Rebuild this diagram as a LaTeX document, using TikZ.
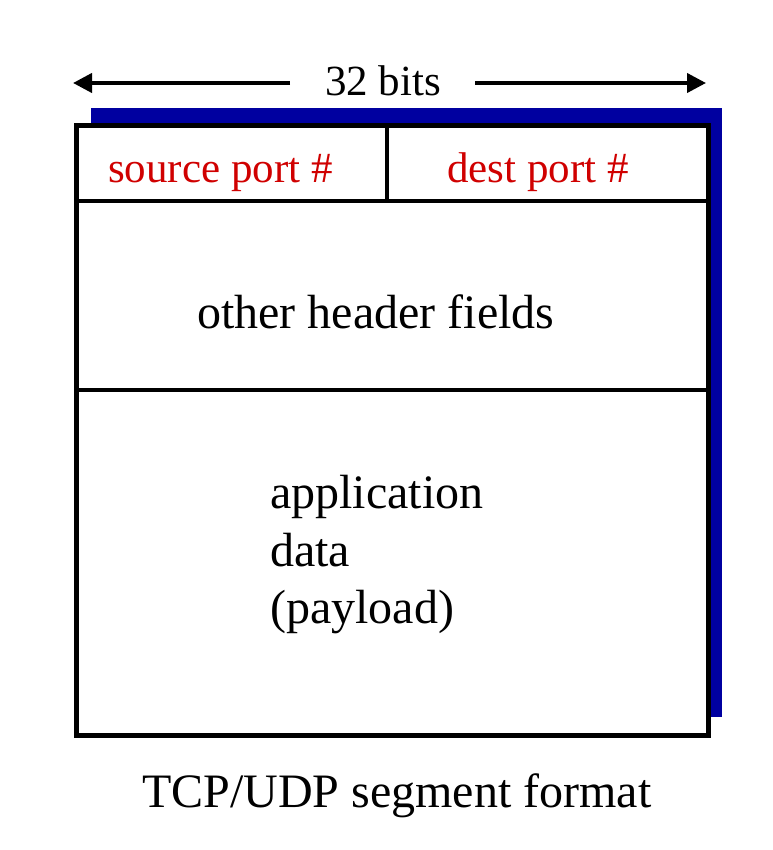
\documentclass[tikz,border=0pt]{standalone}
\usepackage{fontspec}
\setmainfont{Liberation Serif}
\usetikzlibrary{arrows.meta}
\definecolor{shadowblue}{RGB}{0,0,160}
\definecolor{portred}{RGB}{208,0,0}
\begin{document}
\begin{tikzpicture}[x=1pt,y=-1pt,
  bigtext/.style={font=\fontsize{48}{57.6}\selectfont, inner sep=0pt, anchor=base west},
  midtext/.style={font=\fontsize{43}{52}\selectfont, inner sep=0pt, anchor=base west},
  porttext/.style={midtext, text=portred},
  frame/.style={line width=5pt},
  divider/.style={line width=4.5pt},
  widtharrow/.style={line width=4pt, -{Triangle[length=19pt,width=19pt]}}]
\useasboundingbox (0,0) rectangle (772,850);
% shadow and box
\fill[shadowblue] (91,108) rectangle (722,717);
\fill[white] (76,125.5) rectangle (708,735);
\draw[frame] (76,125.5) rectangle (708,735);
\draw[divider] (76,201) -- (708,201);
\draw[divider] (76,390) -- (708,390);
\draw[divider] (387,125.5) -- (387,201);
% width label
\node[midtext] (bits) at (325,96) {32 bits};
\coordinate (lstart) at (290,83);
\coordinate (lend) at (73,83);
\coordinate (rstart) at (475,83);
\coordinate (rend) at (706,83);
\draw[widtharrow] (lstart) -- (lend);
\draw[widtharrow] (rstart) -- (rend);
% fields
\node[porttext] (src) at (108,183) {source port \#};
\node[porttext] (dst) at (447,183) {dest port \#};
\node[bigtext] (other) at (197,328) {other header fields};
\node[bigtext] (app) at (270,508) {application};
\node[bigtext] (data) at (270,566) {data};
\node[bigtext] (payload) at (270,623) {(payload)};
\node[bigtext] (caption) at (142,807) {TCP/UDP segment format};
\end{tikzpicture}
\end{document}
